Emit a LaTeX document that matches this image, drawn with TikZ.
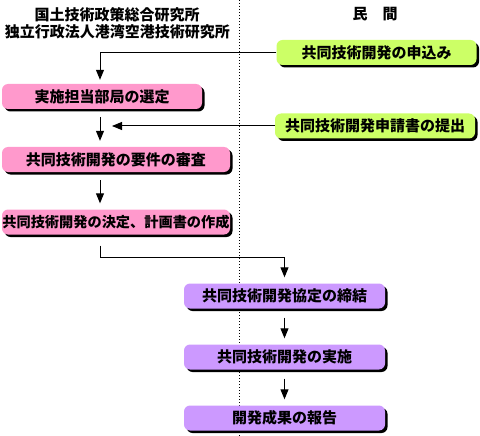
\documentclass[tikz,border=0pt]{standalone}
\usepackage{fontspec}
\setmainfont{Noto Sans CJK JP}
\usetikzlibrary{arrows.meta, positioning, shadows}
\definecolor{pinkbox}{RGB}{255,153,204}
\definecolor{greenbox}{RGB}{204,255,102}
\definecolor{purplebox}{RGB}{204,153,255}

\begin{document}
\begin{tikzpicture}[x=1pt,y=-1pt,node distance=61pt,on grid,
  every node/.style={font=\bfseries\fontsize{15}{15}\selectfont},
  box/.style={rounded corners=6pt,minimum height=25pt,inner sep=0pt,
    drop shadow={shadow xshift=2.5pt,shadow yshift=-2.5pt,fill=black,opacity=1}},
  kokka/.style={box,fill=pinkbox},
  minkan/.style={box,fill=greenbox,minimum width=200pt},
  kyotei/.style={box,fill=purplebox,minimum width=201pt},
  arr/.style={-{Triangle[length=10pt,width=8pt]},line width=1pt}]
 \useasboundingbox (0,0) rectangle (480,436);
 \draw[dotted,line width=1pt] (239,0) -- (239,436);
 \coordinate (col) at (100,0);
 \coordinate (hit) at (112,0);
 % headers
 \node (h1) at (117,15) {国土技術政策総合研究所};
 \node (h2) at (117.5,32) {独立行政法人港湾空港技術研究所};
 \node (h3) at (375,14) {民　間};
 % boxes
 \node[minkan] (g1) at (376.5,52.5) {共同技術開発の申込み};
 \node[kokka,minimum width=200pt] (p1) at (102,96.5) {実施担当部局の選定};
 \node[minkan] (g2) at (375,126) {共同技術開発申請書の提出};
 \node[kokka,minimum width=228pt] (p2) at (116,159.5) {共同技術開発の要件の審査};
 \node[kokka,minimum width=228pt,font=\bfseries\fontsize{14.2}{14}\selectfont] (p3) at (116,222) {共同技術開発の決定、計画書の作成};
 \node[kyotei] (u1) at (284.5,296) {共同技術開発協定の締結};
 \node[kyotei] (u2) [below=of u1] {共同技術開発の実施};
 \node[kyotei] (u3) [below=of u2] {開発成果の報告};
 % flow
 \draw[arr,shorten >=4pt] (g1.west) -| (p1.north -| col);
 \draw[arr,shorten <=8pt,shorten >=6pt] (p1.south -| col) -- (p2.north -| col);
 \draw[arr] (g2.west) -- (g2.west -| hit);
 \draw[arr,shorten <=8pt,shorten >=6pt] (p2.south -| col) -- (p3.north -| col);
 \draw[arr,shorten <=11pt,shorten >=6pt] (p3.south -| col) -- ++(0,23) -| (u1.north);
 \path[arr,shorten <=9pt,shorten >=6pt]
  (u1) edge (u2)
  (u2) edge (u3);
\end{tikzpicture}
\end{document}
